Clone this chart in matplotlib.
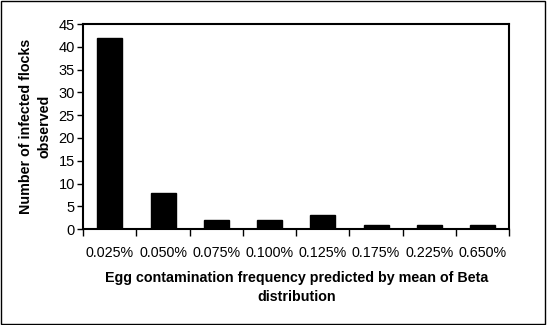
import numpy as np
import matplotlib
matplotlib.use("Agg")
import matplotlib.pyplot as plt
from matplotlib.patches import Rectangle

categories = ["0.025%", "0.050%", "0.075%", "0.100%", "0.125%", "0.175%", "0.225%", "0.650%"]
flocks = [42, 8, 2, 2, 3, 1, 1, 1]

plt.rcParams['font.family'] = ['Liberation Sans', 'DejaVu Sans']

fig = plt.figure(figsize=(5.47, 3.25), dpi=100)
ax = fig.add_axes([0.152, 0.295, 0.779, 0.631])

x = np.arange(len(categories))
ax.bar(x, flocks, width=0.47, color='black', edgecolor='black')

ax.set_xlim(-0.5, len(categories) - 0.5)
ax.set_ylim(0, 45)
ax.set_yticks(range(0, 46, 5))
ax.tick_params(axis='y', direction='out', length=4, width=1, labelsize=10.5, pad=2)

# category labels centered, ticks on the boundaries
ax.set_xticks(x)
ax.set_xticklabels(categories, fontsize=10.3)
ax.set_xticks(np.arange(-0.5, len(categories), 1), minor=True)
ax.tick_params(axis='x', which='major', length=0, pad=12)
ax.tick_params(axis='x', which='minor', direction='out', length=5, width=1)

for s in ax.spines.values():
    s.set_linewidth(1.5)

ax.set_xlabel("Egg contamination frequency predicted by mean of Beta\ndistribution",
              fontsize=10.3, fontweight='bold', linespacing=1.45)
ax.xaxis.set_label_coords(0.5, -0.205, transform=ax.transAxes)
ax.xaxis.label.set_va('top')
ax.set_ylabel("Number of infected flocks\nobserved", fontsize=10.3, fontweight='bold',
              linespacing=1.45)
ax.yaxis.set_label_coords(-0.113, 0.5)
ax.yaxis.label.set_va('center')

# frame around the whole chart
fig.patches.append(Rectangle((0.002, 0.003), 0.995, 0.994, transform=fig.transFigure,
                             fill=False, edgecolor='black', linewidth=1))

fig.savefig("out.png", dpi=100)
